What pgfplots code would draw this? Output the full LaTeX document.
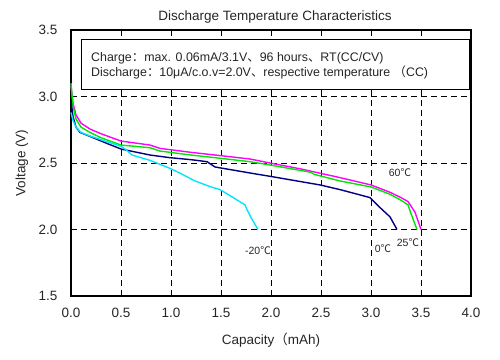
\documentclass[border=0pt]{standalone}
\usepackage{fontspec}
\setmainfont{Liberation Sans}
\newfontfamily\cjk{Noto Sans CJK SC}
\usepackage{pgfplots}
\pgfplotsset{compat=1.18}
\definecolor{cmag}{RGB}{255,0,255}
\definecolor{cgreen}{RGB}{0,230,0}
\definecolor{cnavy}{RGB}{0,0,128}
\definecolor{ccyan}{RGB}{0,230,255}
\begin{document}
\begin{tikzpicture}
\path[use as bounding box] (0,0) rectangle (500bp,360bp);
\begin{axis}[at={(71bp,64bp)}, anchor=south west, scale only axis,
  width=400bp, height=266bp,
  xmin=0, xmax=4, ymin=1.5, ymax=3.5,
  xtick={0,0.5,...,4}, ytick={1.5,2,...,3.5},
  /pgf/number format/assume math mode=true,
  /pgf/number format/fixed, /pgf/number format/fixed zerofill, /pgf/number format/precision=1,
  xticklabel style={yshift=-9bp},
  yticklabel style={xshift=-10bp},
  tick label style={font=\fontsize{13.5bp}{15bp}\selectfont, text=black!85},
  xtick style={draw=none}, ytick style={draw=none},
  grid=major,
  major grid style={black, line width=0.8bp, dash pattern=on 6bp off 4bp},
  axis line style={black, line width=1.8bp},
  every axis plot/.append style={line width=1.4bp, no markers},
  clip=false,
]
\addplot[color=cmag] coordinates {(0,3.08)(0.02,2.95)(0.05,2.86)(0.1,2.80)(0.19,2.755)(0.3,2.72)(0.5,2.665)(0.79,2.635)(0.89,2.61)(1.2,2.58)(1.5,2.555)(1.79,2.53)(1.99,2.50)(2.3,2.455)(2.69,2.39)(3.0,2.335)(3.19,2.28)(3.3,2.24)(3.37,2.21)(3.44,2.13)(3.50,2.0)};
\addplot[color=cgreen] coordinates {(0,3.10)(0.02,2.93)(0.05,2.83)(0.1,2.77)(0.19,2.73)(0.3,2.69)(0.5,2.635)(0.79,2.615)(0.89,2.59)(1.2,2.56)(1.5,2.535)(1.79,2.51)(1.99,2.485)(2.4,2.43)(2.43,2.415)(2.69,2.365)(3.0,2.32)(3.19,2.265)(3.3,2.22)(3.37,2.185)(3.40,2.12)(3.46,2.0)};
\addplot[color=cnavy] coordinates {(0,2.97)(0.02,2.85)(0.05,2.77)(0.09,2.73)(0.19,2.70)(0.35,2.65)(0.5,2.605)(0.79,2.56)(0.99,2.54)(1.2,2.525)(1.36,2.51)(1.44,2.47)(1.79,2.425)(1.99,2.40)(2.49,2.335)(2.69,2.30)(2.99,2.24)(3.09,2.165)(3.19,2.095)(3.26,2.0)};
\addplot[color=ccyan] coordinates {(0,2.88)(0.02,2.82)(0.05,2.77)(0.1,2.73)(0.2,2.70)(0.3,2.675)(0.5,2.625)(0.55,2.60)(0.61,2.56)(0.79,2.52)(0.99,2.46)(1.1,2.42)(1.24,2.365)(1.4,2.32)(1.49,2.30)(1.6,2.25)(1.74,2.185)(1.76,2.15)(1.8,2.09)(1.87,2.0)};
\draw[black, line width=0.8bp, fill=white] (axis cs:0.1,3.43) rectangle (axis cs:3.98,3.05);
\node[anchor=west, inner xsep=0pt, font=\fontsize{12.4bp}{14bp}\selectfont, text=black!85] at (axis cs:0.2,3.29) {Charge{\cjk ：}max. 0.06mA/3.1V{\cjk 、}96 hours{\cjk 、}RT(CC/CV)};
\node[anchor=west, inner xsep=0pt, font=\fontsize{12.4bp}{14bp}\selectfont, text=black!85] at (axis cs:0.2,3.184) {Discharge{\cjk ：}10μA/c.o.v=2.0V{\cjk 、}respective temperature {\cjk （}CC)};
\node[font=\fontsize{10.5bp}{12bp}\selectfont, text=black!85] at (axis cs:3.29,2.425) {60{\cjk ℃}};
\node[font=\fontsize{10.5bp}{12bp}\selectfont, text=black!85] at (axis cs:3.37,1.90) {25{\cjk ℃}};
\node[font=\fontsize{10.5bp}{12bp}\selectfont, text=black!85] at (axis cs:3.12,1.855) {0{\cjk ℃}};
\node[font=\fontsize{10.5bp}{12bp}\selectfont, text=black!85] at (axis cs:1.87,1.84) {-20{\cjk ℃}};
\end{axis}
\node[font=\fontsize{13.5bp}{15bp}\selectfont, text=black!85] at (275bp,343bp) {Discharge Temperature Characteristics};
\node[font=\fontsize{13.5bp}{15bp}\selectfont, text=black!85] at (271bp,20bp) {Capacity{\cjk （}mAh)};
\node[font=\fontsize{13.5bp}{15bp}\selectfont, text=black!85, rotate=90] at (22bp,197bp) {Voltage (V)};
\end{tikzpicture}
\end{document}
